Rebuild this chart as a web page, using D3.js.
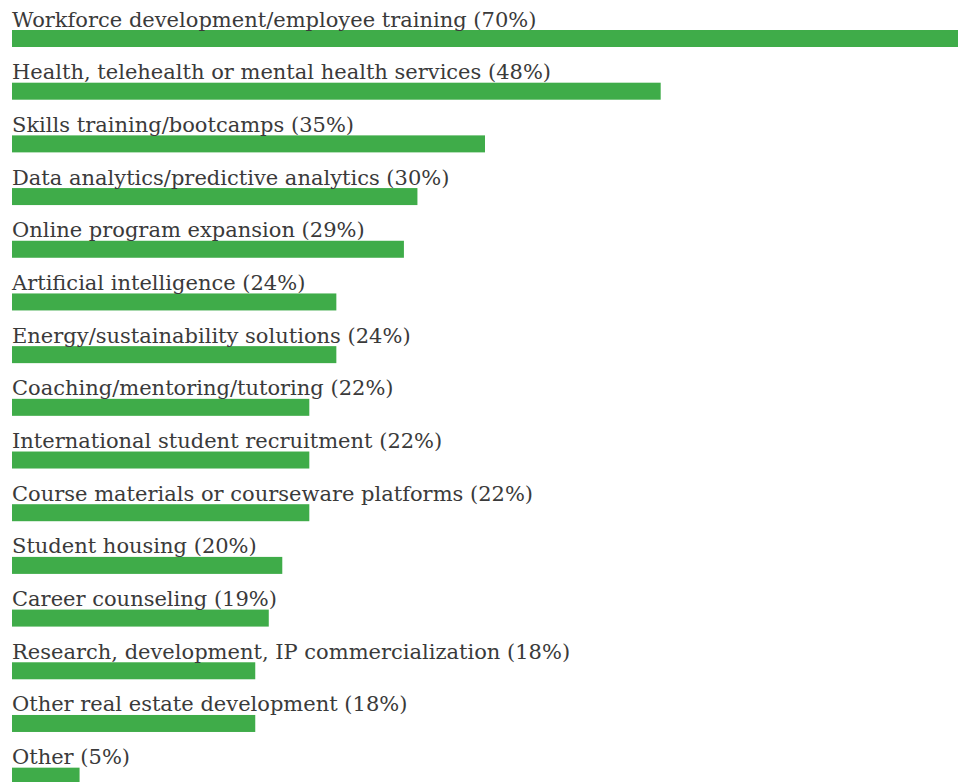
<!DOCTYPE html>
<html>
<head>
<meta charset="utf-8">
<script src="https://cdn.jsdelivr.net/npm/d3@7"></script>
<style>
  html, body { margin: 0; padding: 0; background: #ffffff; overflow: hidden; }
  svg { display: block; }
</style>
</head>
<body>
<svg id="chart" width="958" height="782"></svg>
<script>
const categories = [
  "Workforce development/employee training",
  "Health, telehealth or mental health services",
  "Skills training/bootcamps",
  "Data analytics/predictive analytics",
  "Online program expansion",
  "Artificial intelligence",
  "Energy/sustainability solutions",
  "Coaching/mentoring/tutoring",
  "International student recruitment",
  "Course materials or courseware platforms",
  "Student housing",
  "Career counseling",
  "Research, development, IP commercialization",
  "Other real estate development",
  "Other"
];
const values = [70, 48, 35, 30, 29, 24, 24, 22, 22, 22, 20, 19, 18, 18, 5];

const svg = d3.select("#chart");
const x = d3.scaleLinear().domain([0, 70]).range([12, 958]);
const y = d3.scaleBand()
  .domain(categories)
  .range([30, 30 + 52.69 * categories.length])
  .paddingInner(0).paddingOuter(0);
const barH = 17;

const g = svg.append("g");
const rows = g.selectAll("g.row").data(categories).enter().append("g").attr("class", "row");

rows.append("rect")
  .attr("x", x(0))
  .attr("y", d => y(d))
  .attr("width", (d, i) => x(values[i]) - x(0))
  .attr("height", barH)
  .attr("fill", "#3fac49");

rows.append("text")
  .attr("x", x(0))
  .attr("y", d => y(d) - 3.5)
  .attr("font-family", "DejaVu Serif")
  .attr("font-size", 21)
  .attr("fill", "#3a3a3a")
  .text((d, i) => `${d} (${values[i]}%)`);
</script>
</body>
</html>
